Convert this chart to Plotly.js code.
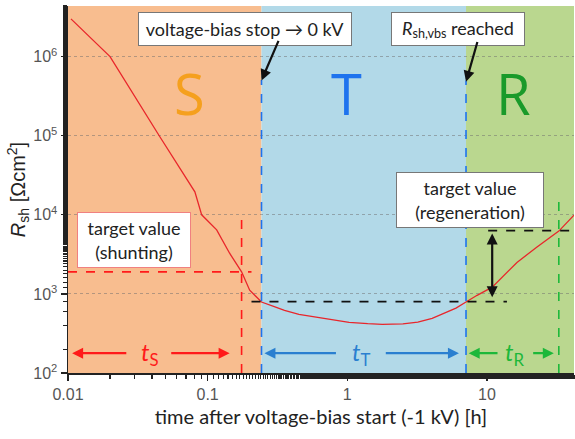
<!DOCTYPE html>
<html>
<head>
<meta charset="utf-8">
<script src="https://cdn.plot.ly/plotly-3.0.1.min.js"></script>
<style>html,body{margin:0;padding:0;background:#fff;}#chart{width:575px;height:439px;}</style>
</head>
<body>
<div id="chart"></div>
<script>
// ---- data ----
const timeH = [0.0105, 0.02, 0.045, 0.0562, 0.081, 0.0906, 0.116, 0.1436, 0.175, 0.2, 0.243, 0.3, 0.355, 0.45, 0.6, 0.8, 1.03, 1.4, 1.78, 2.5, 3.2, 4.05, 5.0, 6.0, 7.08, 8.5, 10.9, 16.4, 22.7, 32.7, 42];
const rsh   = [3.0e6, 1.0e6, 1.0e5, 5.4e4, 1.95e4, 1.0e4, 6450, 3270, 1900, 1115, 790, 690, 618, 550, 507, 465, 436, 420, 413, 418, 440, 492, 570, 662, 790, 960, 1217, 2500, 3890, 6220, 9900];

const regionNames  = ['S', 'T', 'R'];
const regionStart  = [0.01, 0.243, 7.08];
const regionEnd    = [0.243, 7.08, 42];
const regionFill   = ['#F8BD8F', '#B2D9E8', '#BAD78F'];
const regionLetterColor = ['#F5A01E', '#1E73EE', '#1A9A2A'];
const regionLetterX = [0.0743, 0.984, 15.6];

const tShuntTarget = 0.175;      // red dashed vertical
const rShuntTarget = 1900;       // red dashed horizontal
const tRegenTarget = 32.7;       // green dashed vertical
const rVbs = 800;                // black dashed lower level
const rRegenTarget = 6300;       // black dashed upper level

const xTickVals = [0.01, 0.1, 1, 10];
const xTickText = ['0.01', '0.1', '1', '10'];
const yTickVals = [1e2, 1e3, 1e4, 1e5, 1e6];
const yTickText = ['10<sup>2</sup>', '10<sup>3</sup>', '10<sup>4</sup>', '10<sup>5</sup>', '10<sup>6</sup>'];

const FONT = 'Lato, "Open Sans", sans-serif';
const AFONT = '"Liberation Sans", Arial, sans-serif';

const traces = [{
  x: timeH, y: rsh, type: 'scatter', mode: 'lines',
  line: {color: '#E8262B', width: 1.3}, hoverinfo: 'skip', showlegend: false
}];

const shapes = [];
for (let i = 0; i < regionNames.length; i++) {
  shapes.push({type: 'rect', xref: 'x', yref: 'paper', x0: regionStart[i], x1: regionEnd[i], y0: 0, y1: 1,
    fillcolor: regionFill[i], line: {width: 0}, layer: 'below'});
}
const dash = (x0, x1, y0, y1, color, w) => ({type: 'line', xref: 'x', yref: 'y', x0, x1, y0, y1,
  line: {color, width: w || 1.6, dash: 'dash'}});
// blue boundaries
shapes.push(dash(regionStart[1], regionStart[1], 100, 5.07e5, '#1E73EE', 1.6));
shapes.push(dash(regionStart[2], regionStart[2], 100, 5.0e5, '#1E73EE', 1.6));
// shunting target
shapes.push(dash(tShuntTarget, tShuntTarget, 100, 1.05e4, '#FF1A1A', 1.6));
shapes.push(dash(0.01, 0.206, rShuntTarget, rShuntTarget, '#FF1A1A', 1.6));
// regeneration target
shapes.push(dash(tRegenTarget, tRegenTarget, 100, 1.85e4, '#1DB83A', 1.6));
shapes.push(dash(0.206, 13.9, rVbs, rVbs, '#111', 1.8));
shapes.push(dash(10.2, 42, rRegenTarget, rRegenTarget, '#111', 1.8));

const ann = [];
for (let i = 0; i < regionNames.length; i++) {
  ann.push({x: Math.log10(regionLetterX[i]), y: Math.log10(3.5e5), xref: 'x', yref: 'y', text: regionNames[i], showarrow: false,
    font: {family: '"Open Sans", sans-serif', size: 56, color: regionLetterColor[i]}});
}
const box = (xv, yv, text, border, w, h) => ({x: Math.log10(xv), y: Math.log10(yv), xref: 'x', yref: 'y', text, showarrow: false,
  bgcolor: '#FFFFFF', bordercolor: border, borderwidth: 1, borderpad: 4, width: w, height: h,
  font: {family: FONT, size: 18, color: '#222'}});
ann.push(box(0.184, 2.24e6, 'voltage-bias stop \u2192 0 kV', '#777', 204, 24));
ann.push(box(6.2, 2.25e6, '<i>R</i><sub>sh,vbs</sub> reached', '#777', 124, 24));
ann.push(box(7.57, 1.53e4, 'target value<br>(regeneration)', '#777', 138, 46));
ann.push(box(0.0296, 4.8e3, 'target value<br>(shunting)', '#F08080', 104, 46));

// arrows from boxes
const arrow = (x, y, ax, ay, color, side) => ({x: Math.log10(x), y: Math.log10(y), ax: Math.log10(ax), ay: Math.log10(ay),
  xref: 'x', yref: 'y', axref: 'x', ayref: 'y', text: '', showarrow: true, arrowhead: 2, arrowsize: 1, arrowwidth: 2.2,
  arrowcolor: color, arrowside: side || 'end', standoff: 0, startstandoff: 0});
ann.push(arrow(0.243, 5.0e5, 0.325, 1.65e6, '#111'));
ann.push(arrow(7.08, 4.8e5, 8.6, 1.6e6, '#111'));
ann.push(arrow(10.9, 5800, 10.9, 870, '#111', 'end+start'));

// horizontal time arrows
const yArr = 178;
ann.push(arrow(0.0107, yArr, 0.0268, yArr, '#FF1A1A'));
ann.push(arrow(0.1436, yArr, 0.0535, yArr, '#FF1A1A'));
ann.push(arrow(0.255, yArr, 0.85, yArr, '#2A7FD0'));
ann.push(arrow(6.3, yArr, 1.84, yArr, '#2A7FD0'));
ann.push(arrow(7.4, yArr, 12.2, yArr, '#1DB83A'));
ann.push(arrow(30.1, yArr, 20.9, yArr, '#1DB83A'));
const lbl = (x, text, color) => ({x: Math.log10(x), y: Math.log10(yArr), xref: 'x', yref: 'y', text, showarrow: false,
  font: {family: FONT, size: 24, color}});
ann.push(lbl(0.0386, '<i>t</i><sub>S</sub>', '#FF1A1A'));
ann.push(lbl(1.26, '<i>t</i><sub>T</sub>', '#2A7FD0'));
ann.push(lbl(15.8, '<i>t</i><sub>R</sub>', '#1DB83A'));

const layout = {
  width: 575, height: 439,
  margin: {l: 68, r: 1, t: 6, b: 66},
  paper_bgcolor: '#FFFFFF', plot_bgcolor: '#FFFFFF',
  showlegend: false,
  font: {family: FONT, color: '#333'},
  xaxis: {
    type: 'log', range: [-2, Math.log10(42)],
    tickvals: xTickVals, ticktext: xTickText,
    ticks: 'outside', ticklen: 6, tickwidth: 1.2, tickcolor: '#222',
    showline: true, linecolor: '#222', linewidth: 1.5, mirror: false,
    showgrid: false, zeroline: false,
    tickfont: {family: AFONT, size: 16, color: '#555'},
    minor: {ticks: 'outside', ticklen: 4, tickcolor: '#222', showgrid: false},
    title: {text: 'time after voltage-bias start (-1 kV) [h]', font: {family: FONT, size: 20, color: '#222'}, standoff: 8}
  },
  yaxis: {
    type: 'log', range: [2, 6.64],
    tickvals: yTickVals, ticktext: yTickText,
    ticks: 'outside', ticklen: 6, tickwidth: 1.2, tickcolor: '#222',
    showline: true, linecolor: '#222', linewidth: 1.5,
    showgrid: true, gridcolor: 'rgba(110,110,110,0.5)', griddash: 'dot', gridwidth: 1,
    zeroline: false,
    tickfont: {family: AFONT, size: 16, color: '#555'},
    minor: {ticks: 'outside', ticklen: 4, tickcolor: '#222', showgrid: false},
    title: {text: '<i>R</i><sub>sh</sub> [\u03A9cm<sup>2</sup>]', font: {family: AFONT, size: 20, color: '#222'}, standoff: 2}
  },
  shapes, annotations: ann
};

Plotly.newPlot('chart', traces, layout, {staticPlot: true, displayModeBar: false});
</script>
</body>
</html>
